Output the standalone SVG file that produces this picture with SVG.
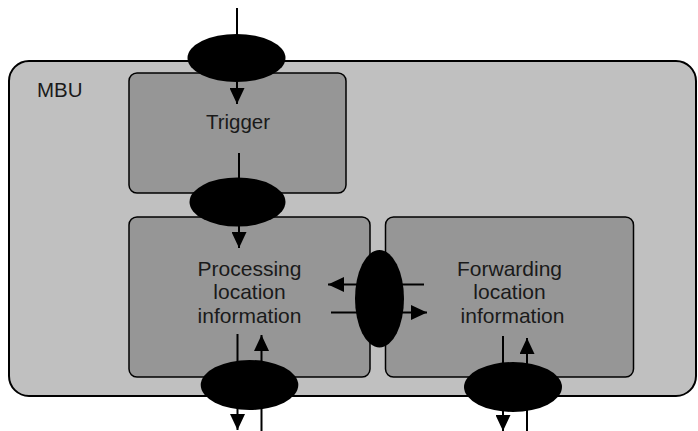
<svg xmlns="http://www.w3.org/2000/svg" width="698" height="431" viewBox="0 0 698 431">
  <style>
    .outer { fill: #c0c0c0; stroke: #000; stroke-width: 2; }
    .block { fill: #969696; stroke: #000; stroke-width: 1.5; }
    .port { fill: #000; stroke: none; }
    .flow { stroke: #000; stroke-width: 2; fill: none; }
    .label { font-family: "Liberation Sans", Arial, sans-serif; font-size: 20.5px; fill: #1a1a1a; }
    .big { font-size: 21px; }
    .mid { text-anchor: middle; }
  </style>
  <defs>
    <marker id="head" viewBox="0 0 16 15" refX="16" refY="7.5" markerWidth="16" markerHeight="15" markerUnits="userSpaceOnUse" orient="auto">
      <path d="M0,0 L16,7.5 L0,15 Z" fill="#000"/>
    </marker>
  </defs>

  <!-- MBU container -->
  <g id="mbu">
    <rect class="outer" x="9" y="61" width="687" height="335" rx="20" ry="20"/>
    <text class="label" x="37" y="97">MBU</text>
  </g>

  <!-- functional blocks -->
  <g id="trigger">
    <rect class="block" x="129" y="73" width="217" height="120" rx="8" ry="8"/>
    <text class="label mid" x="238" y="129">Trigger</text>
  </g>
  <g id="processing">
    <rect class="block" x="129" y="217" width="241" height="160" rx="8" ry="8"/>
    <text class="label big mid" x="249.5" y="275.7">Processing</text>
    <text class="label big mid" x="249.5" y="299">location</text>
    <text class="label big mid" x="249.5" y="322.5">information</text>
  </g>
  <g id="forwarding">
    <rect class="block" x="385.5" y="217" width="248" height="160" rx="8" ry="8"/>
    <text class="label big mid" x="509.5" y="275.7">Forwarding</text>
    <text class="label big mid" x="509.5" y="299">location</text>
    <text class="label big mid" x="512.5" y="322.5">information</text>
  </g>

  <!-- data flows -->
  <g id="connectors">
    <line class="flow" x1="237" y1="8" x2="237" y2="104" marker-end="url(#head)"/>
    <line class="flow" x1="239" y1="153" x2="239" y2="248" marker-end="url(#head)"/>
    <line class="flow" x1="424" y1="284.5" x2="328" y2="284.5" marker-end="url(#head)"/>
    <line class="flow" x1="331" y1="312.5" x2="427" y2="312.5" marker-end="url(#head)"/>
    <line class="flow" x1="237.5" y1="334" x2="237.5" y2="430" marker-end="url(#head)"/>
    <line class="flow" x1="261.5" y1="431" x2="261.5" y2="335" marker-end="url(#head)"/>
    <line class="flow" x1="503" y1="336" x2="503" y2="431" marker-end="url(#head)"/>
    <line class="flow" x1="527" y1="431" x2="527" y2="338" marker-end="url(#head)"/>
  </g>

  <!-- interface points -->
  <g id="port-in">
    <ellipse class="port" cx="236.5" cy="58" rx="49" ry="24"/>
  </g>
  <g id="port-trigger">
    <ellipse class="port" cx="237.5" cy="202" rx="48" ry="24.5"/>
  </g>
  <g id="port-internal">
    <ellipse class="port" cx="379.5" cy="298.7" rx="24.5" ry="48.7"/>
  </g>
  <g id="port-processing">
    <ellipse class="port" cx="249.5" cy="385" rx="48.8" ry="25"/>
  </g>
  <g id="port-forwarding">
    <ellipse class="port" cx="513" cy="387" rx="49" ry="25"/>
  </g>
</svg>
